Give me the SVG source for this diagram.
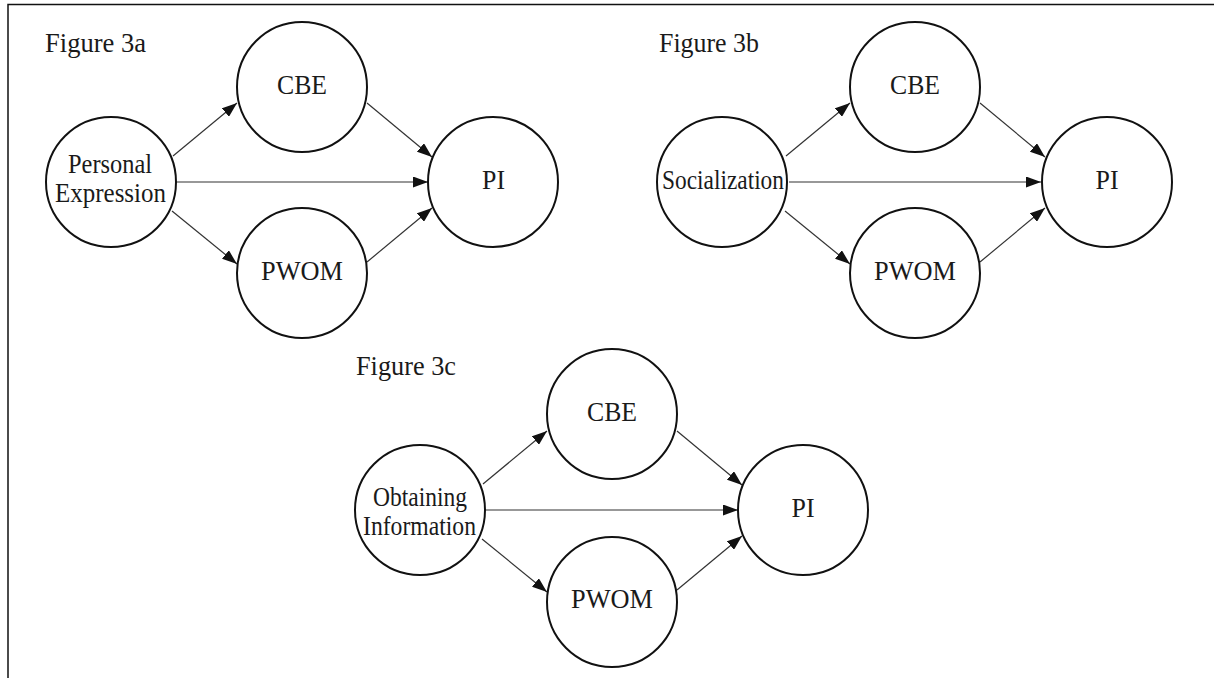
<svg xmlns="http://www.w3.org/2000/svg" width="1214" height="678" viewBox="0 0 1214 678">
<style>
  .node circle { fill: #fff; stroke: #111; stroke-width: 2; }
  .node text, .label { font-family: "Liberation Serif", "Times New Roman", serif; font-size: 27px; fill: #1a1a1a; text-anchor: middle; }
  .label { text-anchor: start; }
  .edge { stroke: #333; stroke-width: 1.2; fill: none; marker-end: url(#arrow); }
  .frame { stroke: #111; stroke-width: 1.5; fill: none; }
</style>
<defs>
  <marker id="arrow" markerUnits="userSpaceOnUse" markerWidth="15" markerHeight="11" refX="15" refY="5.5" orient="auto">
    <path d="M0,0 L15,5.5 L0,11 z" fill="#111"/>
  </marker>
</defs>
<rect width="1214" height="678" fill="#fff"/>
<path class="frame" d="M8,678 L8,4.5 L1214,4.5"/>

<g id="labels">
  <text class="label" x="45" y="52" textLength="101" lengthAdjust="spacingAndGlyphs">Figure 3a</text>
  <text class="label" x="659" y="52" textLength="100" lengthAdjust="spacingAndGlyphs">Figure 3b</text>
  <text class="label" x="356" y="375" textLength="100" lengthAdjust="spacingAndGlyphs">Figure 3c</text>
</g>

<g id="connectors">
  <!-- Figure 3a -->
  <line class="edge" x1="173" y1="156" x2="237" y2="103"/>
  <line class="edge" x1="367" y1="103" x2="432" y2="157"/>
  <line class="edge" x1="176" y1="182" x2="428" y2="182"/>
  <line class="edge" x1="172" y1="211" x2="237" y2="264"/>
  <line class="edge" x1="367" y1="262" x2="432" y2="208"/>
  <!-- Figure 3b -->
  <line class="edge" x1="786" y1="156" x2="850" y2="103"/>
  <line class="edge" x1="980" y1="103" x2="1045" y2="157"/>
  <line class="edge" x1="789" y1="182" x2="1041" y2="182"/>
  <line class="edge" x1="785" y1="211" x2="850" y2="264"/>
  <line class="edge" x1="980" y1="262" x2="1045" y2="208"/>
  <!-- Figure 3c -->
  <line class="edge" x1="483" y1="484" x2="547" y2="431"/>
  <line class="edge" x1="677" y1="431" x2="742" y2="485"/>
  <line class="edge" x1="486" y1="510" x2="738" y2="510"/>
  <line class="edge" x1="482" y1="539" x2="547" y2="592"/>
  <line class="edge" x1="677" y1="590" x2="742" y2="536"/>
</g>

<!-- Figure 3a nodes -->
<g id="a-personal-expression" class="node">
  <circle cx="111" cy="182" r="65"/>
  <text x="110" y="173" textLength="84" lengthAdjust="spacingAndGlyphs">Personal</text>
  <text x="110.5" y="202" textLength="111" lengthAdjust="spacingAndGlyphs">Expression</text>
</g>
<g id="a-cbe" class="node">
  <circle cx="302" cy="87" r="65"/>
  <text x="302" y="94" textLength="50" lengthAdjust="spacingAndGlyphs">CBE</text>
</g>
<g id="a-pwom" class="node">
  <circle cx="302" cy="273" r="65"/>
  <text x="302" y="280" textLength="82" lengthAdjust="spacingAndGlyphs">PWOM</text>
</g>
<g id="a-pi" class="node">
  <circle cx="493" cy="182" r="65"/>
  <text x="493.5" y="189" textLength="23" lengthAdjust="spacingAndGlyphs">PI</text>
</g>

<!-- Figure 3b nodes -->
<g id="b-socialization" class="node">
  <circle cx="722" cy="182" r="65"/>
  <text x="723" y="189" textLength="122" lengthAdjust="spacingAndGlyphs">Socialization</text>
</g>
<g id="b-cbe" class="node">
  <circle cx="915" cy="87" r="65"/>
  <text x="915" y="94" textLength="50" lengthAdjust="spacingAndGlyphs">CBE</text>
</g>
<g id="b-pwom" class="node">
  <circle cx="915" cy="273" r="65"/>
  <text x="915" y="280" textLength="82" lengthAdjust="spacingAndGlyphs">PWOM</text>
</g>
<g id="b-pi" class="node">
  <circle cx="1107" cy="182" r="65"/>
  <text x="1107" y="189" textLength="23" lengthAdjust="spacingAndGlyphs">PI</text>
</g>

<!-- Figure 3c nodes -->
<g id="c-obtaining-information" class="node">
  <circle cx="420" cy="510" r="65"/>
  <text x="420" y="506" textLength="94" lengthAdjust="spacingAndGlyphs">Obtaining</text>
  <text x="419.5" y="535" textLength="113" lengthAdjust="spacingAndGlyphs">Information</text>
</g>
<g id="c-cbe" class="node">
  <circle cx="612" cy="414" r="65"/>
  <text x="612" y="421" textLength="50" lengthAdjust="spacingAndGlyphs">CBE</text>
</g>
<g id="c-pwom" class="node">
  <circle cx="612" cy="602" r="65"/>
  <text x="612" y="608" textLength="82" lengthAdjust="spacingAndGlyphs">PWOM</text>
</g>
<g id="c-pi" class="node">
  <circle cx="803" cy="510" r="65"/>
  <text x="803" y="517" textLength="23" lengthAdjust="spacingAndGlyphs">PI</text>
</g>
</svg>
